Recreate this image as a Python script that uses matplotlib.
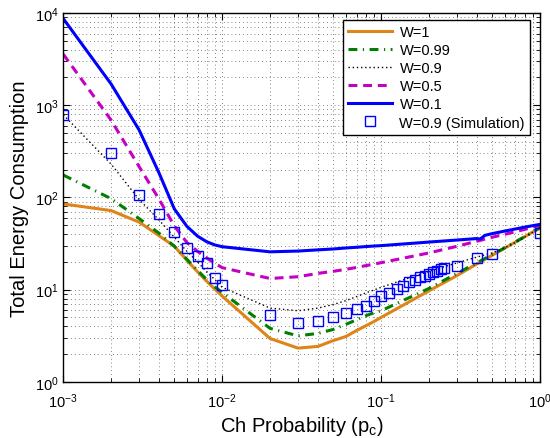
import matplotlib
matplotlib.use('Agg')
import matplotlib.pyplot as plt

plt.rcParams['font.family'] = ['Liberation Sans', 'DejaVu Sans']

# model curves (x = channel probability)
x_model = [0.001, 0.002, 0.003, 0.004, 0.005, 0.006, 0.007, 0.008, 0.009,
           0.01, 0.02, 0.03, 0.04, 0.05, 0.06, 0.07, 0.08, 0.09,
           0.1, 0.2, 0.3, 0.4, 0.5, 0.6, 0.7, 0.8, 0.9, 1.0]
w_1 = [85, 72, 54, 38.5, 29.5, 20.8, 15.6, 12.3, 10.1,
       8.5, 2.95, 2.32, 2.42, 2.8, 3.1, 3.6, 4.05, 4.5,
       5.0, 9.7, 14.2, 19.0, 23.6, 28.2, 32.8, 37.5, 42.2, 47]
w_099 = [175, 97, 59, 41, 29.5, 21.3, 16.2, 12.8, 10.7,
         9.3, 3.8, 3.15, 3.35, 3.7, 4.2, 4.7, 5.2, 5.6,
         5.9, 10.3, 15.0, 19.5, 24.0, 28.4, 33.0, 37.5, 42.2, 47]
w_09 = [790, 230, 95, 57, 37, 26, 20, 15.5, 12.8,
        10.6, 6.3, 5.9, 6.3, 6.9, 7.6, 8.4, 9.2, 9.9,
        10.6, 15.8, 19.5, 22.5, 25.0, 28.5, 32.5, 37.0, 42.0, 47]
w_05 = [3580, 690, 216, 96, 49, 32.4, 26, 22, 19.3,
        17.3, 13.2, 13.8, 15.0, 15.8, 16.6, 17.4, 18.2, 18.9,
        19.6, 25.0, 29.5, 33.5, 37.0, 39.8, 42.5, 45.0, 47.5, 50]

x_w01 = [0.001, 0.002, 0.003, 0.004, 0.005, 0.006, 0.007, 0.008, 0.009,
         0.01, 0.02, 0.03, 0.04, 0.05, 0.06, 0.07, 0.08, 0.09,
         0.1, 0.2, 0.3, 0.4, 0.42, 0.45, 0.5, 0.6, 0.7, 0.8, 0.9, 1.0]
w_01 = [8700, 1700, 540, 185, 75, 48.5, 38, 33, 30.5,
        29.2, 25.7, 26.2, 27.0, 27.6, 28.3, 28.8, 29.3, 29.7,
        30.0, 32.8, 34.5, 35.8, 35.4, 38.8, 40.5, 43.2, 45.5, 47.6, 49.4, 51]

# simulation, W=0.9
x_sim = [0.001, 0.002, 0.003, 0.004, 0.005, 0.006, 0.007, 0.008, 0.009,
         0.01, 0.02, 0.03, 0.04, 0.05, 0.06, 0.07, 0.08, 0.09,
         0.1, 0.1125, 0.125, 0.1375, 0.15, 0.1625, 0.175, 0.1875, 0.2,
         0.2125, 0.225, 0.2375, 0.25, 0.3, 0.4, 0.5, 1.0]
y_sim = [790, 300, 106, 66, 41.7, 28, 23.3, 19.4, 13.4,
         11.3, 5.3, 4.33, 4.6, 5.1, 5.56, 6.1, 6.7, 7.6,
         8.6, 9.3, 10.1, 11.0, 12.0, 12.7, 13.6, 14.1, 14.7,
         15.4, 16.0, 16.7, 17.1, 18.1, 21.8, 24.3, 41]

fig = plt.figure(figsize=(5.5, 4.39), dpi=100)
ax = fig.add_axes([0.115, 0.128, 0.867, 0.840])

ax.plot(x_model, w_1, color='#DE8418', lw=2.2, label='W=1')
ax.plot(x_model, w_099, color='#007F00', lw=2.2, linestyle=(0, (2.9, 1.8, 0.4, 1.8)), label='W=0.99')
ax.plot(x_model, w_09, color='k', lw=1.0, linestyle=(0, (1, 2)), label='W=0.9')
ax.plot(x_model, w_05, color='#C400C4', lw=2.2, linestyle=(0, (2.9, 1.9)), label='W=0.5')
ax.plot(x_w01, w_01, color='#0000FF', lw=2.2, label='W=0.1')
ax.plot(x_sim, y_sim, linestyle='none', marker='s', markersize=6.5,
        markerfacecolor='none', markeredgecolor='#0000FF', markeredgewidth=1.0,
        label='W=0.9 (Simulation)')

ax.set_xscale('log')
ax.set_yscale('log')
ax.set_xlim(1e-3, 1)
ax.set_ylim(1, 1e4)

ax.grid(True, which='both', color='0.25', linestyle=(0, (1, 4)), linewidth=0.55)
ax.tick_params(which='both', direction='in', top=True, right=True, labelsize=10.5)
ax.tick_params(which='major', length=5)
ax.tick_params(which='minor', length=3)
ax.tick_params(axis='x', which='major', pad=7)
for s in ax.spines.values():
    s.set_linewidth(1.0)

ax.set_xlabel('Ch Probability (p$_\\mathregular{c}$)', fontsize=14.5, labelpad=3)
ax.set_ylabel('Total Energy Consumption', fontsize=14.5, labelpad=4)

leg = ax.legend(loc='upper right', bbox_to_anchor=(0.979, 0.981), borderaxespad=0,
                fontsize=10.5, numpoints=1, handlelength=3.0, labelspacing=0.28,
                fancybox=False, framealpha=1, edgecolor='k', borderpad=0.35,
                handletextpad=0.5)
leg.get_frame().set_linewidth(1.0)

fig.savefig('out.png', dpi=100)
